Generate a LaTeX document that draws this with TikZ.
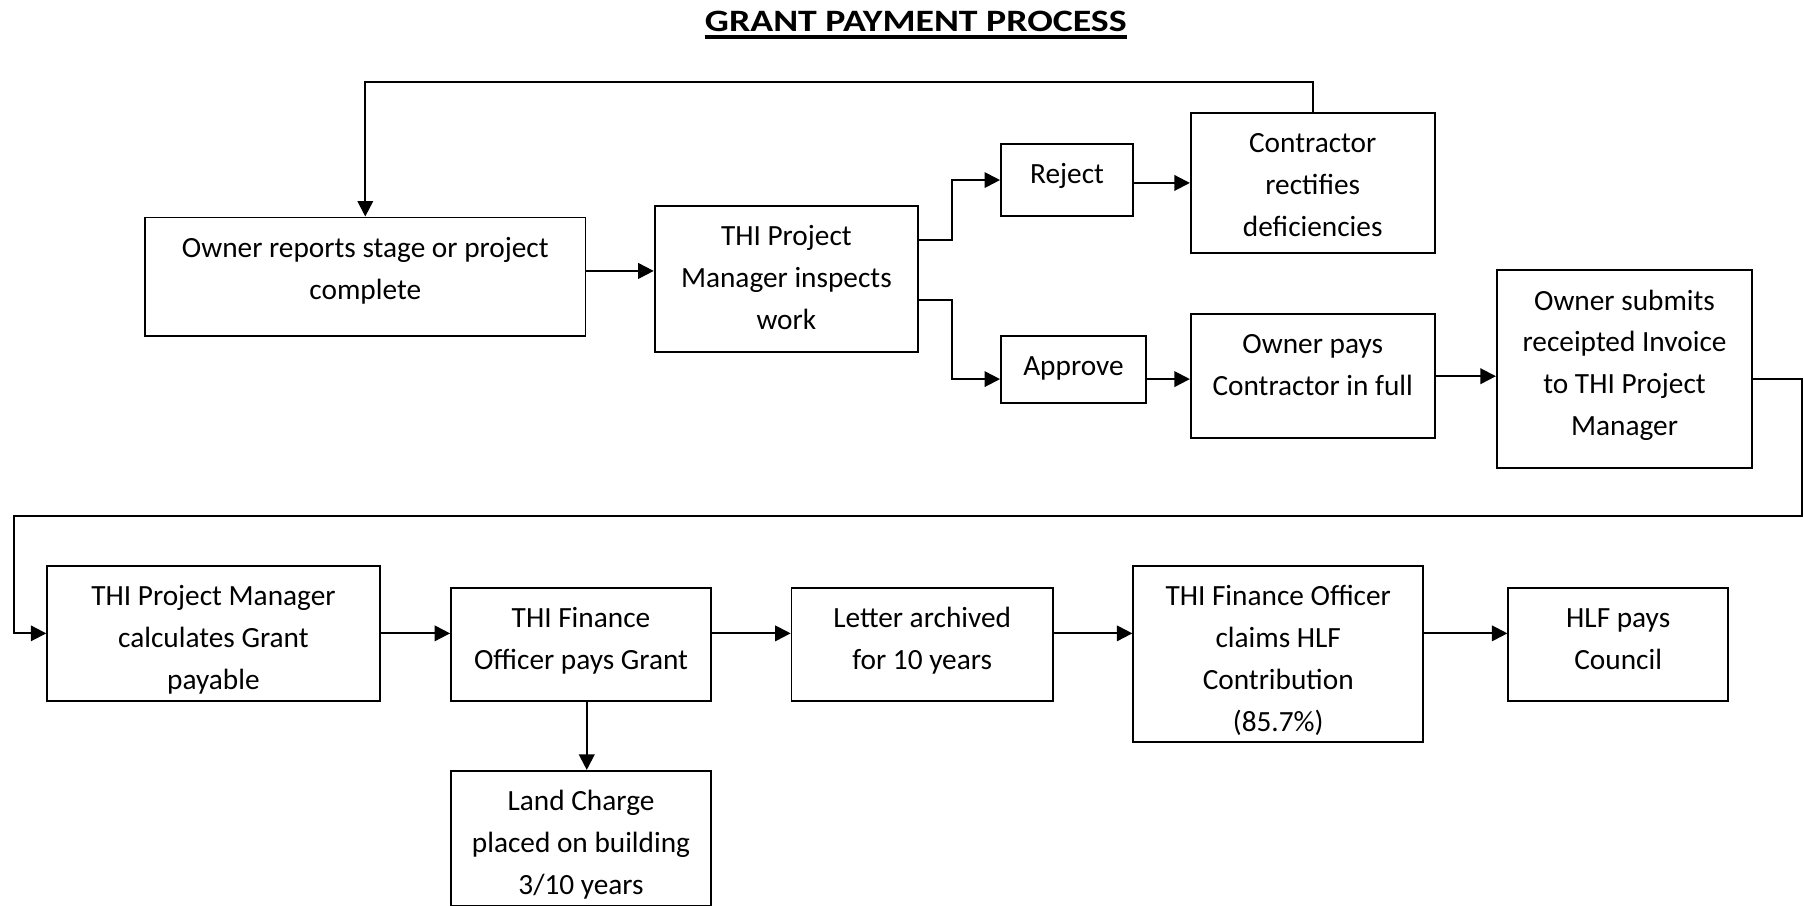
\documentclass[tikz,border=0pt]{standalone}
\usepackage{fontspec}
\setmainfont{Carlito}
\usetikzlibrary{arrows.meta,calc,positioning}
\newcommand{\lines}[1]{\begin{tabular}[t]{@{}c@{}}#1\end{tabular}}
\tikzstyle{box} = [draw, line width=0.9pt, inner sep=0pt]
\tikzstyle{txt} = [anchor=base, inner sep=0pt, yshift=-20.1pt]
\tikzstyle{arrow} = [line width=1pt, -{Triangle[length=0.27cm, width=0.27cm]}]
\begin{document}
\begin{tikzpicture}[x=0.02cm, y=0.02cm, font=\fontsize{14.5}{20.7}\selectfont]
\useasboundingbox (0,0) rectangle (1568,-787);
% title
\node[inner sep=0pt, anchor=base, font=\fontsize{15.4}{18}\selectfont\bfseries] (title) at (796,-27.5) {\scalebox{1.215}[1]{GRANT PAYMENT PROCESS}};
\draw[line width=2pt] ($(title.base west)+(0,-5)$) -- ($(title.base east)+(0,-5)$);
% upper row
\node[box, minimum width=7.66cm, minimum height=2.06cm, label={[txt]north:{\lines{Owner reports stage or project\\complete}}}] (own) at (317.5,-240.5) {};
\node[box, minimum width=4.58cm, minimum height=2.54cm, label={[txt]north:{\lines{THI Project\\Manager inspects\\work}}}] (insp) at (683.5,-242.5) {};
\node[box, minimum width=2.30cm, minimum height=1.26cm, label={[txt]north:{\lines{Reject}}}] (rej) at (927.5,-156.5) {};
\node[box, minimum width=2.52cm, minimum height=1.16cm, label={[txt]north:{\lines{Approve}}}] (appr) at (933,-321) {};
\node[box, minimum width=4.24cm, minimum height=2.44cm, label={[txt]north:{\lines{Contractor\\rectifies\\deficiencies}}}] (rect) at (1141,-159) {};
\node[box, minimum width=4.24cm, minimum height=2.16cm, label={[txt]north:{\lines{Owner pays\\Contractor in full}}}] (pays) at (1141,-327) {};
\node[box, minimum width=4.44cm, minimum height=3.44cm, label={[txt]north:{\lines{Owner submits\\receipted Invoice\\to THI Project\\Manager}}}] (inv) at (1412,-321) {};
% lower row
\node[box, minimum width=5.78cm, minimum height=2.34cm, label={[txt]north:{\lines{THI Project Manager\\calculates Grant\\payable}}}] (calc) at (185.5,-550.5) {};
\node[box, minimum width=4.52cm, minimum height=1.96cm, label={[txt]north:{\lines{THI Finance\\Officer pays Grant}}}] (fopay) at (505,-560) {};
\node[box, minimum width=4.54cm, minimum height=1.96cm, label={[txt]north:{\lines{Letter archived\\for 10 years}}}] (arch) at (801.5,-560) {};
\node[box, minimum width=5.04cm, minimum height=3.06cm, label={[txt]north:{\lines{THI Finance Officer\\claims HLF\\Contribution\\(85.7\%)}}}] (claim) at (1111,-568.5) {};
\node[box, minimum width=3.82cm, minimum height=1.96cm, label={[txt]north:{\lines{HLF pays\\Council}}}] (hlf) at (1406.5,-560) {};
\node[box, minimum width=4.52cm, minimum height=2.34cm, label={[txt]north:{\lines{Land Charge\\placed on building\\3/10 years}}}] (land) at (505,-728.5) {};
% connectors
\coordinate (r1) at (1566,-448.5);
\coordinate (l1) at (12,-448.5);
\draw[arrow] ($(own.east)+(0,5)$) -- ($(own.east -| insp.west)+(0,5)$);
\draw[arrow] ($(insp.east)+(0,34)$) -- ++(29,0) |- (rej.west);
\draw[arrow] ($(insp.east)+(0,-18.3)$) -- ++(29,0) |- ($(appr.west)+(0,-8.5)$);
\draw[arrow] (rej.east |- rect.west) -- (rect.west);
\draw[arrow] ($(appr.east)+(0,-8.5)$) -- ($(appr.east -| pays.west)+(0,-8.5)$);
\draw[arrow] (pays.east) -- (pays.east -| inv.west);
\draw[arrow] (rect.north) -- ++(0,26) -| (own.north);
\draw[arrow] ($(inv.east)+(0,-8.5)$) -| (r1) -- (l1) |- (calc.west);
\draw[arrow] (calc.east) -- (calc.east -| fopay.west);
\draw[arrow] (calc.east -| fopay.east) -- (calc.east -| arch.west);
\draw[arrow] (calc.east -| arch.east) -- (calc.east -| claim.west);
\draw[arrow] (calc.east -| claim.east) -- (calc.east -| hlf.west);
\draw[arrow] ($(fopay.south)+(5,0)$) -- ($(land.north)+(5,0)$);
\end{tikzpicture}
\end{document}
